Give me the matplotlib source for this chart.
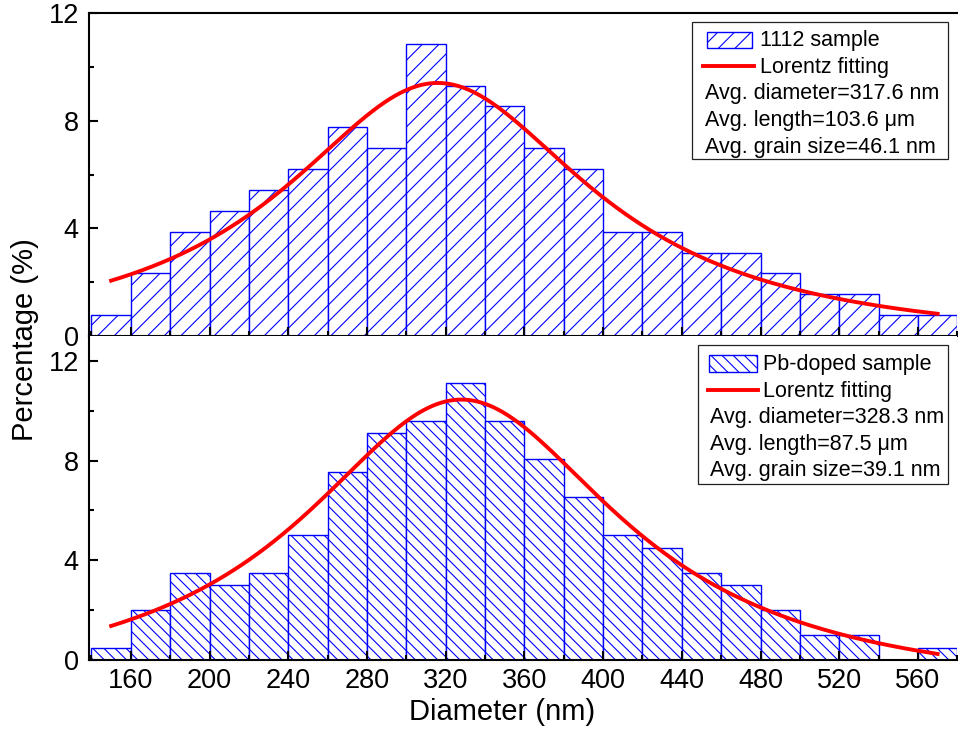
import numpy as np
import matplotlib
matplotlib.use('Agg')
import matplotlib.pyplot as plt
import matplotlib.transforms as mtransforms
from matplotlib.patches import Rectangle
from matplotlib.lines import Line2D
from matplotlib.ticker import MultipleLocator

plt.rcParams['font.family'] = ['Liberation Sans', 'DejaVu Sans']
plt.rcParams['hatch.linewidth'] = 0.8

# Histogram bins (left edges, nm), width 20 nm
bin_left = [140, 160, 180, 200, 220, 240, 260, 280, 300, 320, 340,
            360, 380, 400, 420, 440, 460, 480, 500, 520, 540, 560]
bin_width = 20

pct_1112 = [0.78, 2.33, 3.88, 4.65, 5.43, 6.2, 7.75, 6.98, 10.85, 9.3, 8.53,
            6.98, 6.2, 3.88, 3.88, 3.1, 3.1, 2.33, 1.55, 1.55, 0.78, 0.78]
pct_pb = [0.5, 2.0, 3.5, 3.0, 3.5, 5.0, 7.55, 9.1, 9.6, 11.1, 9.6,
          8.05, 6.55, 5.0, 4.5, 3.5, 3.0, 2.0, 1.0, 1.0, 0.0, 0.5]

# Lorentz fit parameters (Origin form): y0 + 2A/pi * w / (4(x-xc)^2 + w^2)
fit_1112 = {'xc': 316.0, 'w': 192.0, 'A': 2956.0, 'y0': -0.4}
fit_pb = {'xc': 328.0, 'w': 200.0, 'A': 3754.0, 'y0': -1.5}
fit_range = (150, 570)

legend_1112 = ['1112 sample', 'Lorentz fitting', 'Avg. diameter=317.6 nm',
               'Avg. length=103.6 \u03bcm', 'Avg. grain size=46.1 nm']
legend_pb = ['Pb-doped sample', 'Lorentz fitting', 'Avg. diameter=328.3 nm',
             'Avg. length=87.5 \u03bcm', 'Avg. grain size=39.1 nm']


def lorentz(x, p):
    return p['y0'] + 2 * p['A'] / np.pi * p['w'] / (4 * (x - p['xc']) ** 2 + p['w'] ** 2)


W, H = 958, 734
fig = plt.figure(figsize=(W / 100, H / 100), dpi=100)
px = mtransforms.Affine2D().scale(1 / W, -1 / H).translate(0, 1) + fig.transFigure

x_l, x_r = 88.5, 957.3
ax_top = fig.add_axes([x_l / W, 1 - 336 / H, (x_r - x_l) / W, (336 - 13) / H])
ax_bot = fig.add_axes([x_l / W, 1 - 660 / H, (x_r - x_l) / W, (660 - 336) / H])

xs = np.linspace(fit_range[0], fit_range[1], 400)
panels = [(ax_top, pct_1112, fit_1112, '//', 12),
          (ax_bot, pct_pb, fit_pb, '\\\\\\', 13)]

for ax, vals, fit, hatch, ytop in panels:
    ax.bar(bin_left, vals, width=bin_width, align='edge', facecolor='white',
           edgecolor='blue', hatch=hatch, linewidth=1.0)
    ax.plot(xs, lorentz(xs, fit), color='red', linewidth=2.8)
    ax.set_xlim(138.5, 580)
    ax.set_ylim(0, ytop)
    ax.set_xticks(range(160, 561, 40))
    ax.xaxis.set_minor_locator(MultipleLocator(20))
    ax.set_yticks([0, 4, 8, 12])
    ax.yaxis.set_minor_locator(MultipleLocator(2))
    ax.tick_params(which='both', direction='in', width=1.5, labelsize=19.5)
    ax.tick_params(which='major', length=6.5)
    ax.tick_params(which='minor', length=3.5)
    ax.tick_params(axis='x', pad=6)
    ax.tick_params(axis='y', pad=7)
    ax.spines['right'].set_visible(False)
    for s in ['left', 'bottom', 'top']:
        ax.spines[s].set_linewidth(1.5)

ax_top.tick_params(axis='x', labelbottom=False)
ax_bot.spines['top'].set_visible(False)

fig.text(25 / W, 1 - 340 / H, 'Percentage (%)', rotation=90, fontsize=21,
         ha='center', va='center')
fig.text(502.5 / W, 1 - 712 / H, 'Diameter (nm)', fontsize=21,
         ha='center', va='center')


def draw_legend(box, patch_box, line_y, line_x, hatch, texts, label_x, avg_x, baselines):
    x0, y0, x1, y1 = box
    fig.add_artist(Rectangle((x0, y1), x1 - x0, y0 - y1, transform=px,
                             facecolor='white', edgecolor='#222222', linewidth=0.9))
    px0, py0, px1, py1 = patch_box
    fig.add_artist(Rectangle((px0, py1), px1 - px0, py0 - py1, transform=px,
                             facecolor='white', edgecolor='blue', hatch=hatch,
                             linewidth=1.0))
    fig.add_artist(Line2D(line_x, [line_y, line_y], transform=px,
                          color='red', linewidth=2.8))
    for i, t in enumerate(texts):
        tx = label_x if i < 2 else avg_x
        fig.text(tx, baselines[i], t, transform=px, fontsize=15.5,
                 ha='left', va='baseline')


draw_legend((691.7, 21.7, 948.3, 159), (706.7, 32.3, 751.7, 48.3), 66,
            [703.3, 754], '//', legend_1112, 760.5, 705,
            [46, 72.7, 99.4, 126, 152.7])
draw_legend((698.3, 345, 948.3, 484), (709.3, 355, 756.7, 371.7), 390,
            [708.3, 758.3], '\\\\\\', legend_pb, 763.5, 710,
            [370, 397.3, 423.3, 450, 476])

fig.savefig('out.png', dpi=100)
